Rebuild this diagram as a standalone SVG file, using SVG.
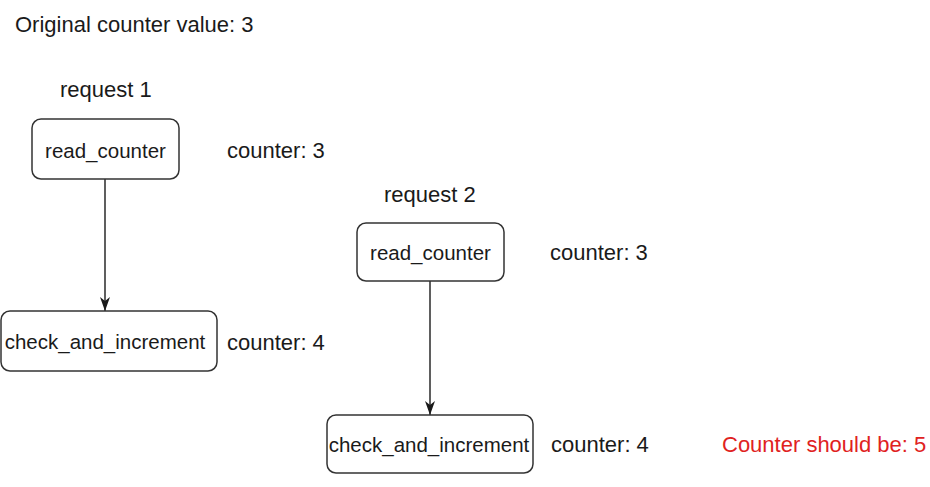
<svg xmlns="http://www.w3.org/2000/svg" width="930" height="487" viewBox="0 0 930 487">
<defs>
<style>
.lbl{font-family:"Liberation Sans",Arial,sans-serif;font-size:22px;fill:#1a1a1a}
.red{fill:#e0221e}
.box{fill:#fff;stroke:#333;stroke-width:1.5}
.bt{font-family:"Liberation Sans",Arial,sans-serif;font-size:20.5px;fill:#1a1a1a;text-anchor:middle}
.edge{stroke:#1a1a1a;stroke-width:1.4;fill:none}
</style>
<marker id="arr" viewBox="0 0 14 10" refX="14" refY="5" markerUnits="userSpaceOnUse" markerWidth="14" markerHeight="10" orient="auto">
<path d="M0,0 L14,5 L0,10 L4,5 Z" fill="#1a1a1a"/>
</marker>
</defs>
<rect width="930" height="487" fill="#fff"/>
<text class="lbl" x="15" y="32">Original counter value: 3</text>
<text class="lbl" x="60" y="97">request 1</text>
<text class="lbl" x="384" y="202">request 2</text>
<g id="connectors">
<line class="edge" x1="105" y1="179" x2="105" y2="311" marker-end="url(#arr)"/>
<line class="edge" x1="430" y1="281" x2="430" y2="415" marker-end="url(#arr)"/>
</g>
<g id="read1">
<rect class="box" x="32" y="119" width="147" height="60" rx="9"/>
<text class="bt" x="105.5" y="158">read_counter</text>
</g>
<g id="check1">
<rect class="box" x="1" y="311" width="216" height="60" rx="9"/>
<text class="bt" x="105" y="349">check_and_increment</text>
</g>
<g id="read2">
<rect class="box" x="357" y="223" width="147" height="58" rx="9"/>
<text class="bt" x="430.5" y="260">read_counter</text>
</g>
<g id="check2">
<rect class="box" x="327" y="415" width="206" height="58" rx="9"/>
<text class="bt" x="429" y="452">check_and_increment</text>
</g>
<text class="lbl" x="227" y="158">counter: 3</text>
<text class="lbl" x="227" y="350">counter: 4</text>
<text class="lbl" x="550" y="260">counter: 3</text>
<text class="lbl" x="551" y="452">counter: 4</text>
<text class="lbl red" x="722" y="452">Counter should be: 5</text>
</svg>
